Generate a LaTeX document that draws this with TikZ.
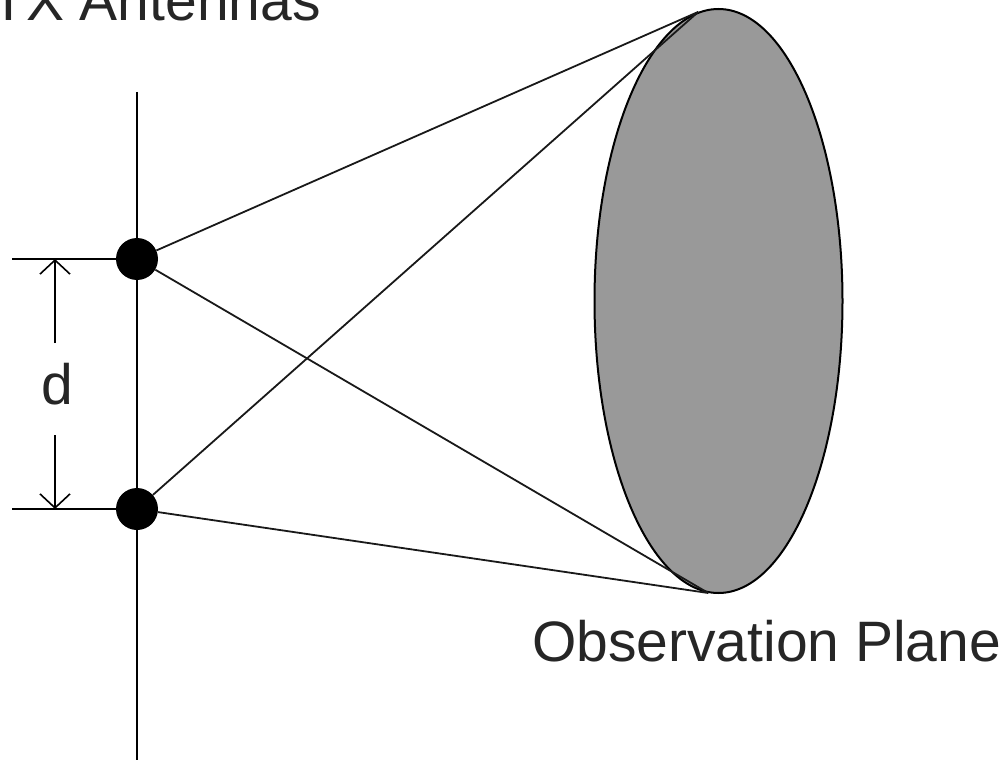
\documentclass[tikz,border=0pt]{standalone}
\usepackage{fontspec}
\setmainfont{Liberation Sans}
\usetikzlibrary{arrows.meta,shapes.geometric}

\definecolor{planegray}{gray}{0.6}

\begin{document}
\begin{tikzpicture}[
  x=1pt, y=-1pt,
  wire/.style={line width=2.2pt, draw=black},
  ray/.style={line width=1.8pt, draw=black!90},
  dot/.style={circle, fill=black, minimum size=42pt, inner sep=0pt},
  plane/.style={ellipse, draw=black, line width=2pt, fill=planegray,
    minimum width=248pt, minimum height=584pt, inner sep=0pt},
  dimarrow/.style={-{Straight Barb[length=14pt, width=30pt, line width=1.6pt]},
    line width=1.8pt},
  lbl/.style={font=\fontsize{57}{60}\selectfont, text=black!85, inner sep=0pt}
]
\useasboundingbox (0,0) rectangle (1005,760);

% Observation plane
\node[plane] (obs) at (718.5,301) {};

% Antenna mast
\coordinate (masttop) at (137,92);
\coordinate (mastbot) at (137,762);
\draw[wire, line width=2.8pt] (masttop) -- (mastbot);

% Extension lines
\coordinate (ext1) at (12,259);
\coordinate (ext2) at (12,509);
\draw[wire] (ext1) -- (137,259);
\draw[wire] (ext2) -- (137,509);

% Antennas
\node[dot] (tx1) at (137,259) {};
\node[dot] (tx2) at (137,509) {};

% Rays to the plane
\draw[ray] (tx1) -- (obs.94.6);
\draw[ray] (tx1) -- (obs.268.6);
\draw[ray] (tx2) -- (obs.94.6);
\draw[ray] (tx2) -- (obs.268.6);

% Spacing d
\coordinate (dtop) at (55,259);
\coordinate (dbot) at (55,509);
\coordinate (dgapt) at (55,343);
\coordinate (dgapb) at (55,435);
\draw[dimarrow] (dgapt) -- (dtop);
\draw[dimarrow] (dgapb) -- (dbot);
\node[lbl] (dlbl) at (57,384) {d};

% Labels
\node[lbl, anchor=base west] (txlbl) at (-9,21) {TX Antennas};
\node[lbl, anchor=base west] (obslbl) at (532,661) {Observation Plane};

\end{tikzpicture}
\end{document}
